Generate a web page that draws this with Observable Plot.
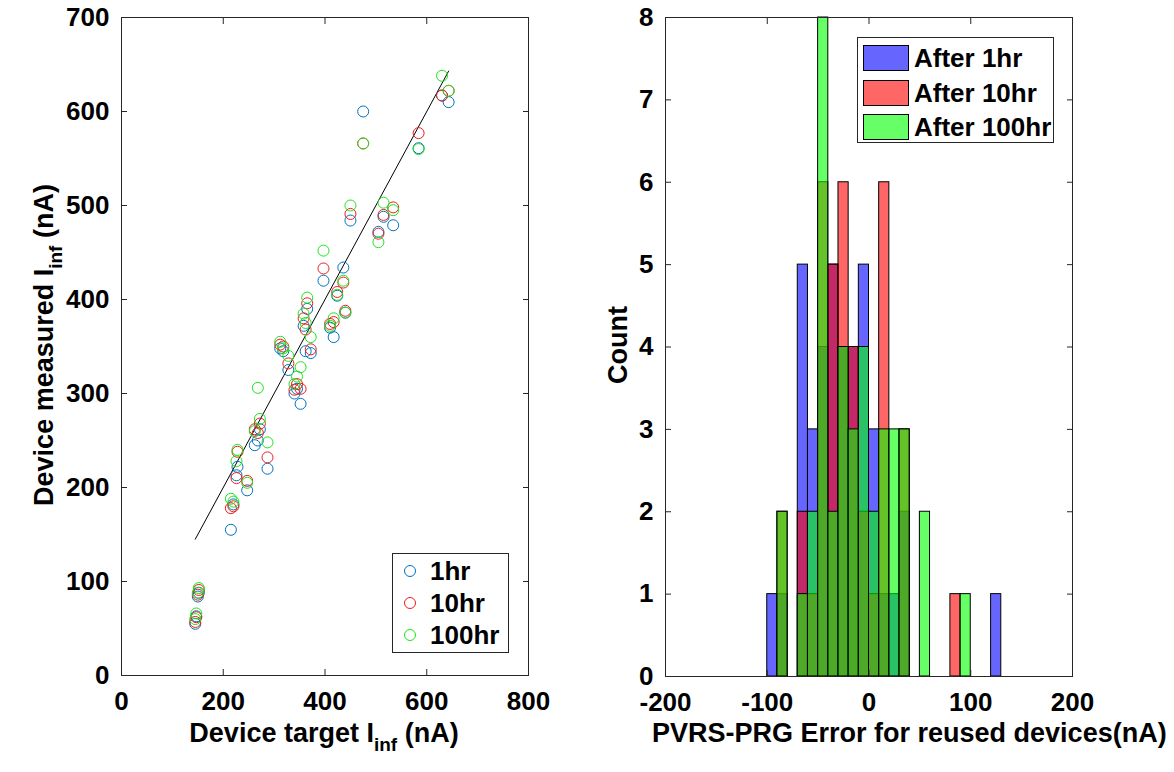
<!DOCTYPE html>
<html><head><meta charset="utf-8">
<script src="https://cdn.jsdelivr.net/npm/d3@7"></script>
<script src="https://cdn.jsdelivr.net/npm/@observablehq/plot@0.6"></script>
<style>
body{margin:0;background:#fff;font-family:"Liberation Sans",Arial,sans-serif;}
#wrap{position:relative;width:1174px;height:772px;overflow:hidden;background:#fff}
.abs{position:absolute}
.lbl{position:absolute;font-size:27px;font-weight:bold;white-space:nowrap;color:#000;line-height:1}
.lbl sub{font-size:19px;vertical-align:-9px;line-height:0}
.legend{position:absolute;border:1px solid #262626;background:#fff;box-sizing:border-box;font-weight:bold;font-size:26px;color:#000}
.row{position:absolute;display:flex;align-items:center;white-space:nowrap;line-height:1}
</style></head><body>
<div id="wrap">
  <div id="left" class="abs" style="left:0;top:0"></div>
  <div id="right" class="abs" style="left:580px;top:0"></div>
  <div class="lbl" style="left:324px;top:733px;transform:translate(-50%,-50%)">Device target I<sub>inf</sub> (nA)</div>
  <div class="lbl" style="left:44px;top:345px;transform:translate(-50%,-50%) rotate(-90deg)">Device measured I<sub>inf</sub> (nA)</div>
  <div class="lbl" style="left:652px;top:733px;transform:translate(0,-50%)">PVRS-PRG Error for reused devices(nA)</div>
  <div class="lbl" style="left:618px;top:345px;transform:translate(-50%,-50%) rotate(-90deg)">Count</div>
  <div id="legL" class="legend" style="left:392px;top:553px;width:117px;height:100px"></div>
  <div id="legR" class="legend" style="left:857px;top:37px;width:197px;height:106px"></div>
</div>
<script>
// ---------- Left panel data: device target vs measured I_inf (nA) ----------
const target  = [145,147,150,152,215,220,226,228,247,268,272,287,262,312,318,328,345,352,340,358,365,362,372,397,410,417,424,436,440,450,475,505,515,534,584,630,643];
const meas1   = [ 55, 63, 84, 88,155,182,213,222,197,250,262,220,245,348,345,325,305,289,300,372,390,345,343,420,370,360,404,434,386,484,600,472,488,479,561,617,610];
const meas10  = [ 57, 62, 86, 91,178,180,210,238,207,258,268,232,262,352,350,332,310,305,304,380,396,368,347,433,374,376,408,418,388,491,566,470,490,498,577,617,622];
const meas100 = [ 60, 66, 88, 93,188,185,228,240,205,306,273,248,260,355,348,340,318,328,310,385,402,375,360,452,372,380,405,420,386,500,566,461,503,495,560,638,622];
const scatterNames  = ["1hr","10hr","100hr"];
const scatterColors = ["#0072BD","#ee1c1c","#1de41d"];
const leftXTicks = [0,200,400,600,800];
const leftYTicks = [0,100,200,300,400,500,600,700];

// ---------- Right panel data: histogram of error (nA) ----------
const binStart = [-100,-90,-80,-70,-60,-50,-40,-30,-20,-10,0,10,20,30,40,50,60,70,80,90,100,110,120];
const binWidth = 10;
const count1   = [1,1,0,5,3,4,5,4,4,5,3,1,1,2,0,0,0,0,0,0,0,0,1];
const count10  = [0,2,0,2,1,6,5,6,4,2,1,6,0,3,0,0,0,0,1,0,0,0,0];
const count100 = [0,2,0,1,2,8,2,4,3,4,2,3,3,3,0,2,0,0,0,1,0,0,0];
const histNames  = ["After 1hr","After 10hr","After 100hr"];
const histColors = ["#0000ff","#ff0000","#00ff00"];
const rightXTicks = [-200,-100,0,100,200];
const rightYTicks = [0,1,2,3,4,5,6,7,8];

const font = {fontFamily:'"Liberation Sans", Arial, sans-serif', fontSize:"26px", fontWeight:"bold", color:"#000", background:"transparent", overflow:"visible"};

function boxAxes(xt, yt, fmt) {
  return [
    Plot.axisX(xt, {anchor:"bottom", tickSize:0, tickPadding:16, label:null, tickFormat:fmt}),
    Plot.axisY(yt, {anchor:"left", tickSize:0, tickPadding:12, label:null, tickFormat:fmt}),
    Plot.axisX(xt, {anchor:"bottom", tickSize:-6, tickFormat:()=>"", label:null, stroke:"#262626"}),
    Plot.axisX(xt, {anchor:"top", tickSize:-6, tickFormat:()=>"", label:null, stroke:"#262626"}),
    Plot.axisY(yt, {anchor:"left", tickSize:-6, tickFormat:()=>"", label:null, stroke:"#262626"}),
    Plot.axisY(yt, {anchor:"right", tickSize:-6, tickFormat:()=>"", label:null, stroke:"#262626"}),
  ];
}

// Left scatter
const series = [meas1, meas10, meas100].map((m, k) => target.map((t, i) => ({t, m: m[i], s: scatterNames[k]})));
const fit = [d3.min(target), d3.max(target)].map(v => ({t: v, m: v}));
const left = Plot.plot({
  width:560, height:772, marginLeft:121, marginRight:32, marginTop:17, marginBottom:97,
  style: font,
  x:{domain:[0,800]}, y:{domain:[0,700]},
  marks:[
    Plot.frame({stroke:"#262626"}),
    ...boxAxes(leftXTicks, leftYTicks, d => String(d)),
    Plot.line(fit, {x:"t", y:"m", stroke:"#000", strokeWidth:1}),
    ...series.map((data, k) => Plot.dot(data, {x:"t", y:"m", r:5.5, stroke:scatterColors[k], strokeWidth:1, fill:"none"}))
  ]
});
document.getElementById("left").appendChild(left);

// Right histogram
const counts = [count1, count10, count100];
const histData = counts.map(c => binStart.map((b, i) => ({x1:b, x2:b + binWidth, y:c[i]})).filter(d => d.y > 0));
const right = Plot.plot({
  width:594, height:772, marginLeft:85, marginRight:102, marginTop:17, marginBottom:96,
  style: font,
  x:{domain:[-200,200]}, y:{domain:[0,8]},
  marks:[
    ...histData.map((data, k) => Plot.rectY(data, {x1:"x1", x2:"x2", y:"y", fill:histColors[k], fillOpacity:0.6, stroke:"#000", strokeWidth:1})),
    Plot.frame({stroke:"#262626"}),
    ...boxAxes(rightXTicks, rightYTicks, d => String(d)),
  ]
});
document.getElementById("right").appendChild(right);

// Legends
const legL = document.getElementById("legL");
scatterNames.forEach((n, k) => {
  const r = document.createElement("div");
  r.className = "row";
  r.style.left = "10px"; r.style.top = (17 + k*32 - 13) + "px"; r.style.height = "26px";
  r.innerHTML = `<svg width="14" height="14" style="margin-right:13px"><circle cx="7" cy="7" r="5.5" fill="none" stroke="${scatterColors[k]}" stroke-width="1"/></svg><span>${n}</span>`;
  legL.appendChild(r);
});
const legR = document.getElementById("legR");
histNames.forEach((n, k) => {
  const r = document.createElement("div");
  r.className = "row";
  r.style.left = "5px"; r.style.top = (20 + k*34.5 - 13) + "px"; r.style.height = "26px";
  const c = d3.color(histColors[k]); c.opacity = 0.6;
  r.innerHTML = `<svg width="46" height="26" style="margin-right:5px"><rect x="0.5" y="0.5" width="45" height="25" fill="${c.formatRgb()}" stroke="#000"/></svg><span>${n}</span>`;
  legR.appendChild(r);
});
</script>
</body></html>
